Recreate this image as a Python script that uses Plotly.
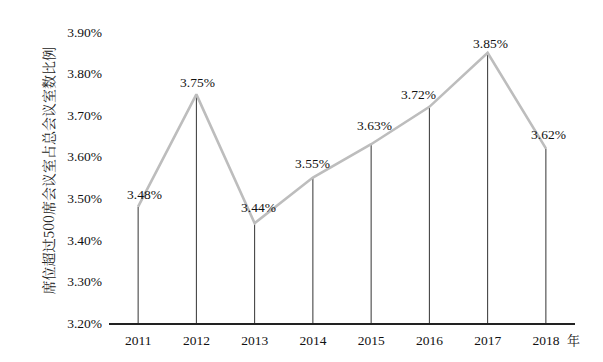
import plotly.graph_objects as go

years = ["2011", "2012", "2013", "2014", "2015", "2016", "2017", "2018"]
ratios = [3.48, 3.75, 3.44, 3.55, 3.63, 3.72, 3.85, 3.62]
tick_vals = [3.2, 3.3, 3.4, 3.5, 3.6, 3.7, 3.8, 3.9]
tick_text = ["3.20%", "3.30%", "3.40%", "3.50%", "3.60%", "3.70%", "3.80%", "3.90%"]
y_title = "席位超过500席会议室占总会议室数比例"
x_unit = "年"
base = 3.2

# label offsets (style only)
label_dx = [6, 1, 4, 0, 3, -11, 3, 3]
label_dy = [12, 12, 16, 14, 19, 12, 9, 14]

serif = "Liberation Serif, Times New Roman, serif"
cjk = "Noto Serif CJK SC, Noto Sans CJK SC, serif"

fig = go.Figure()

# drop lines from each point to the axis
fig.add_trace(go.Scatter(
    x=years, y=ratios, mode="markers",
    marker=dict(size=0.1, color="rgba(0,0,0,0)"),
    error_y=dict(type="data", symmetric=False,
                 array=[0] * len(ratios),
                 arrayminus=[v - base for v in ratios],
                 color="#333333", thickness=1, width=0),
    hoverinfo="skip", showlegend=False,
))

fig.add_trace(go.Scatter(
    x=years, y=ratios, mode="lines",
    line=dict(color="#bdbdbd", width=2.6),
    showlegend=False,
))

annotations = []
for i, v in enumerate(ratios):
    annotations.append(dict(
        x=i, y=v, xref="x", yref="y", text=f"{v:.2f}%",
        showarrow=False, xanchor="center", yanchor="middle",
        xshift=label_dx[i], yshift=label_dy[i],
        font=dict(family=serif, size=13.5, color="#111111"),
    ))

annotations.append(dict(
    x=0, y=0.5, xref="paper", yref="paper", text=y_title,
    textangle=-90, showarrow=False, xanchor="center", yanchor="middle",
    xshift=-62, yshift=6,
    font=dict(family=cjk, size=14, color="#222222"),
))
annotations.append(dict(
    x=1, y=0, xref="paper", yref="paper", text=x_unit,
    showarrow=False, xanchor="center", yanchor="middle",
    xshift=-2, yshift=-16,
    font=dict(family=cjk, size=13, color="#222222"),
))

fig.update_layout(
    width=603, height=362,
    margin=dict(l=109, r=28, t=32, b=39),
    paper_bgcolor="white", plot_bgcolor="white",
    showlegend=False,
    annotations=annotations,
    xaxis=dict(
        type="category", range=[-0.5, 7.5],
        showline=True, linecolor="#222222", linewidth=1.5,
        showgrid=False, zeroline=False, ticks="",
        tickfont=dict(family=serif, size=13.5, color="#111111"),
        ticklabelstandoff=4,
    ),
    yaxis=dict(
        range=[3.2, 3.9], tickvals=tick_vals, ticktext=tick_text,
        showline=False, showgrid=False, zeroline=False, ticks="",
        tickfont=dict(family=serif, size=13.5, color="#111111"),
        ticklabelstandoff=6,
    ),
)

fig.write_html("out.html", config={"displayModeBar": False},
               post_script="document.body.style.margin='0';")
